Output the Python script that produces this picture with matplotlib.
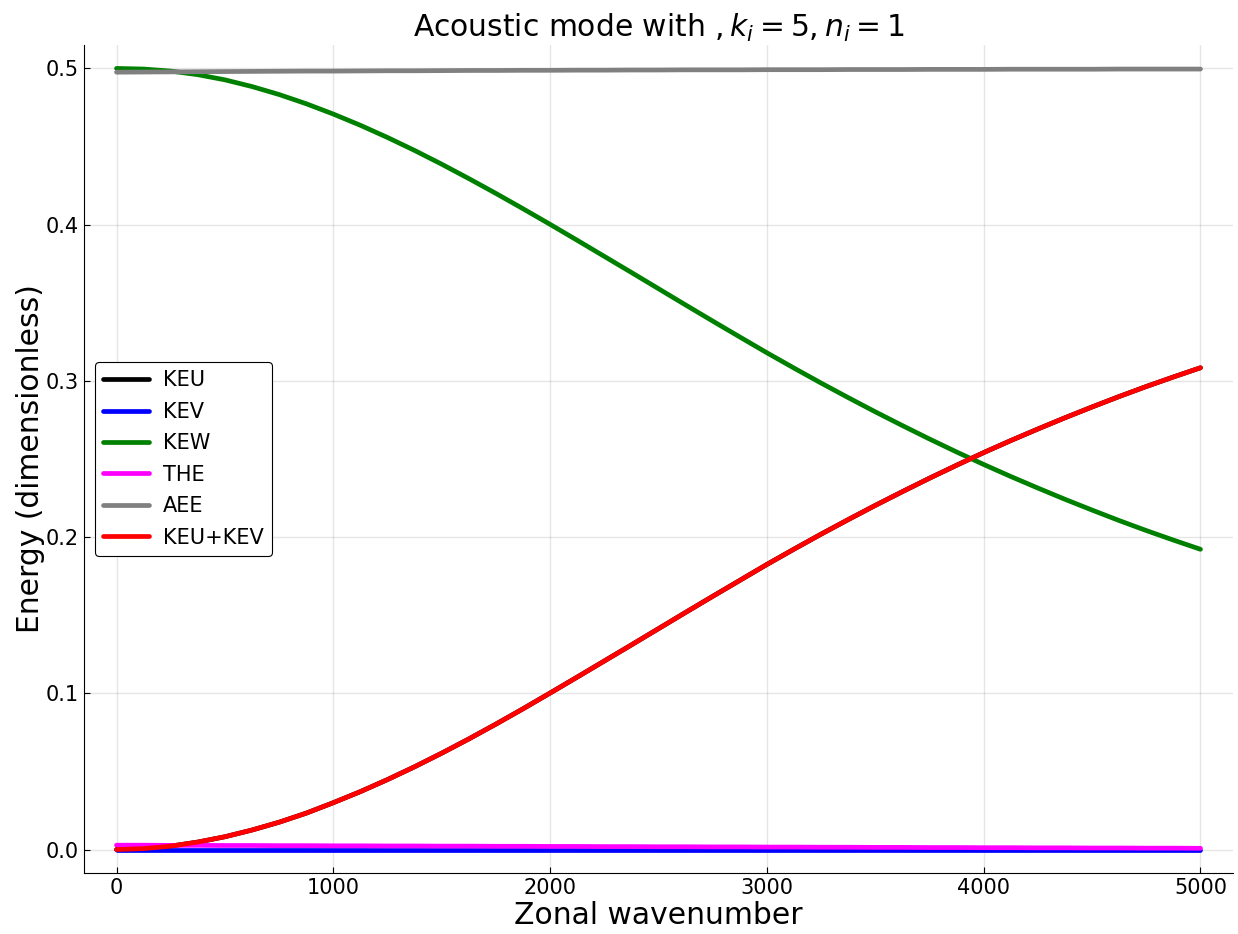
import matplotlib
matplotlib.use("Agg")
import matplotlib.pyplot as plt

# zonal wavenumber samples
wavenumber = [0, 125, 250, 375, 500, 625, 750, 875, 1000, 1125,
              1250, 1375, 1500, 1625, 1750, 1875, 2000, 2125, 2250, 2375,
              2500, 2625, 2750, 2875, 3000, 3125, 3250, 3375, 3500, 3625,
              3750, 3875, 4000, 4125, 4250, 4375, 4500, 4625, 4750, 4875, 5000]

# energy partition (dimensionless)
keu = [0.0000, 0.0006, 0.0022, 0.0048, 0.0082, 0.0125, 0.0175, 0.0233, 0.0300, 0.0371,
       0.0448, 0.0530, 0.0617, 0.0708, 0.0803, 0.0901, 0.1002, 0.1104, 0.1207, 0.1310,
       0.1414, 0.1518, 0.1621, 0.1723, 0.1825, 0.1923, 0.2019, 0.2112, 0.2203, 0.2291,
       0.2377, 0.2460, 0.2541, 0.2618, 0.2692, 0.2764, 0.2833, 0.2900, 0.2964, 0.3025, 0.3084]
kev = [0.0000] * 41
kew = [0.5000, 0.4996, 0.4983, 0.4960, 0.4927, 0.4884, 0.4833, 0.4774, 0.4708, 0.4636,
       0.4558, 0.4475, 0.4387, 0.4295, 0.4200, 0.4102, 0.4002, 0.3900, 0.3797, 0.3694,
       0.3590, 0.3486, 0.3383, 0.3281, 0.3180, 0.3082, 0.2986, 0.2893, 0.2802, 0.2714,
       0.2628, 0.2545, 0.2465, 0.2388, 0.2314, 0.2242, 0.2173, 0.2106, 0.2042, 0.1981, 0.1922]
the = [0.0028, 0.0028, 0.0027, 0.0027, 0.0026, 0.0026, 0.0025, 0.0025, 0.0024, 0.0024,
       0.0023, 0.0023, 0.0022, 0.0022, 0.0021, 0.0021, 0.0020, 0.0020, 0.0019, 0.0019,
       0.0018, 0.0018, 0.0017, 0.0017, 0.0016, 0.0016, 0.0015, 0.0015, 0.0014, 0.0014,
       0.0013, 0.0013, 0.0012, 0.0012, 0.0011, 0.0011, 0.0010, 0.0010, 0.0009, 0.0009, 0.0008]
aee = [0.4976, 0.4977, 0.4978, 0.4979, 0.4980, 0.4981, 0.4982, 0.4983, 0.4983, 0.4984,
       0.4985, 0.4985, 0.4986, 0.4987, 0.4987, 0.4988, 0.4988, 0.4989, 0.4989, 0.4990,
       0.4990, 0.4991, 0.4991, 0.4991, 0.4992, 0.4992, 0.4992, 0.4993, 0.4993, 0.4993,
       0.4994, 0.4994, 0.4994, 0.4995, 0.4995, 0.4995, 0.4995, 0.4996, 0.4996, 0.4996, 0.4996]
keu_kev = [u + v for u, v in zip(keu, kev)]

series = [
    ("KEU", keu, "black"),
    ("KEV", kev, "blue"),
    ("KEW", kew, "green"),
    ("THE", the, "magenta"),
    ("AEE", aee, "gray"),
    ("KEU+KEV", keu_kev, "red"),
]

fig = plt.figure(figsize=(12.38, 9.34), dpi=100)
ax = fig.add_axes([84 / 1238, 61 / 934, 1149 / 1238, 828 / 934])

for name, vals, col in series:
    ax.plot(wavenumber, vals, color=col, lw=3.4, label=name, solid_capstyle="round")

ax.set_xlim(-150, 5150)
ax.set_ylim(-0.015, 0.515)
ax.set_xticks([0, 1000, 2000, 3000, 4000, 5000])
ax.set_yticks([0.0, 0.1, 0.2, 0.3, 0.4, 0.5])
ax.set_yticklabels(["0.0", "0.1", "0.2", "0.3", "0.4", "0.5"])
ax.tick_params(direction="in", labelsize=15, length=4, width=0.8)
ax.grid(True, color="black", alpha=0.1, lw=1)
for side in ["top", "right"]:
    ax.spines[side].set_visible(False)

ax.set_title(r"Acoustic mode with $, k_i = 5, n_i = 1$", fontsize=21.4)
ax.set_xlabel("Zonal wavenumber", fontsize=21.4, labelpad=2)
ax.set_ylabel("Energy (dimensionless)", fontsize=21.4, labelpad=1)

leg = ax.legend(loc="center left", bbox_to_anchor=(0.0096, 0.5), borderaxespad=0,
                fontsize=15, handlelength=2.2, handletextpad=0.65, fancybox=True,
                framealpha=1, edgecolor="black", labelspacing=0.55)
leg.get_frame().set_linewidth(0.8)

fig.savefig("out.png", dpi=100)
